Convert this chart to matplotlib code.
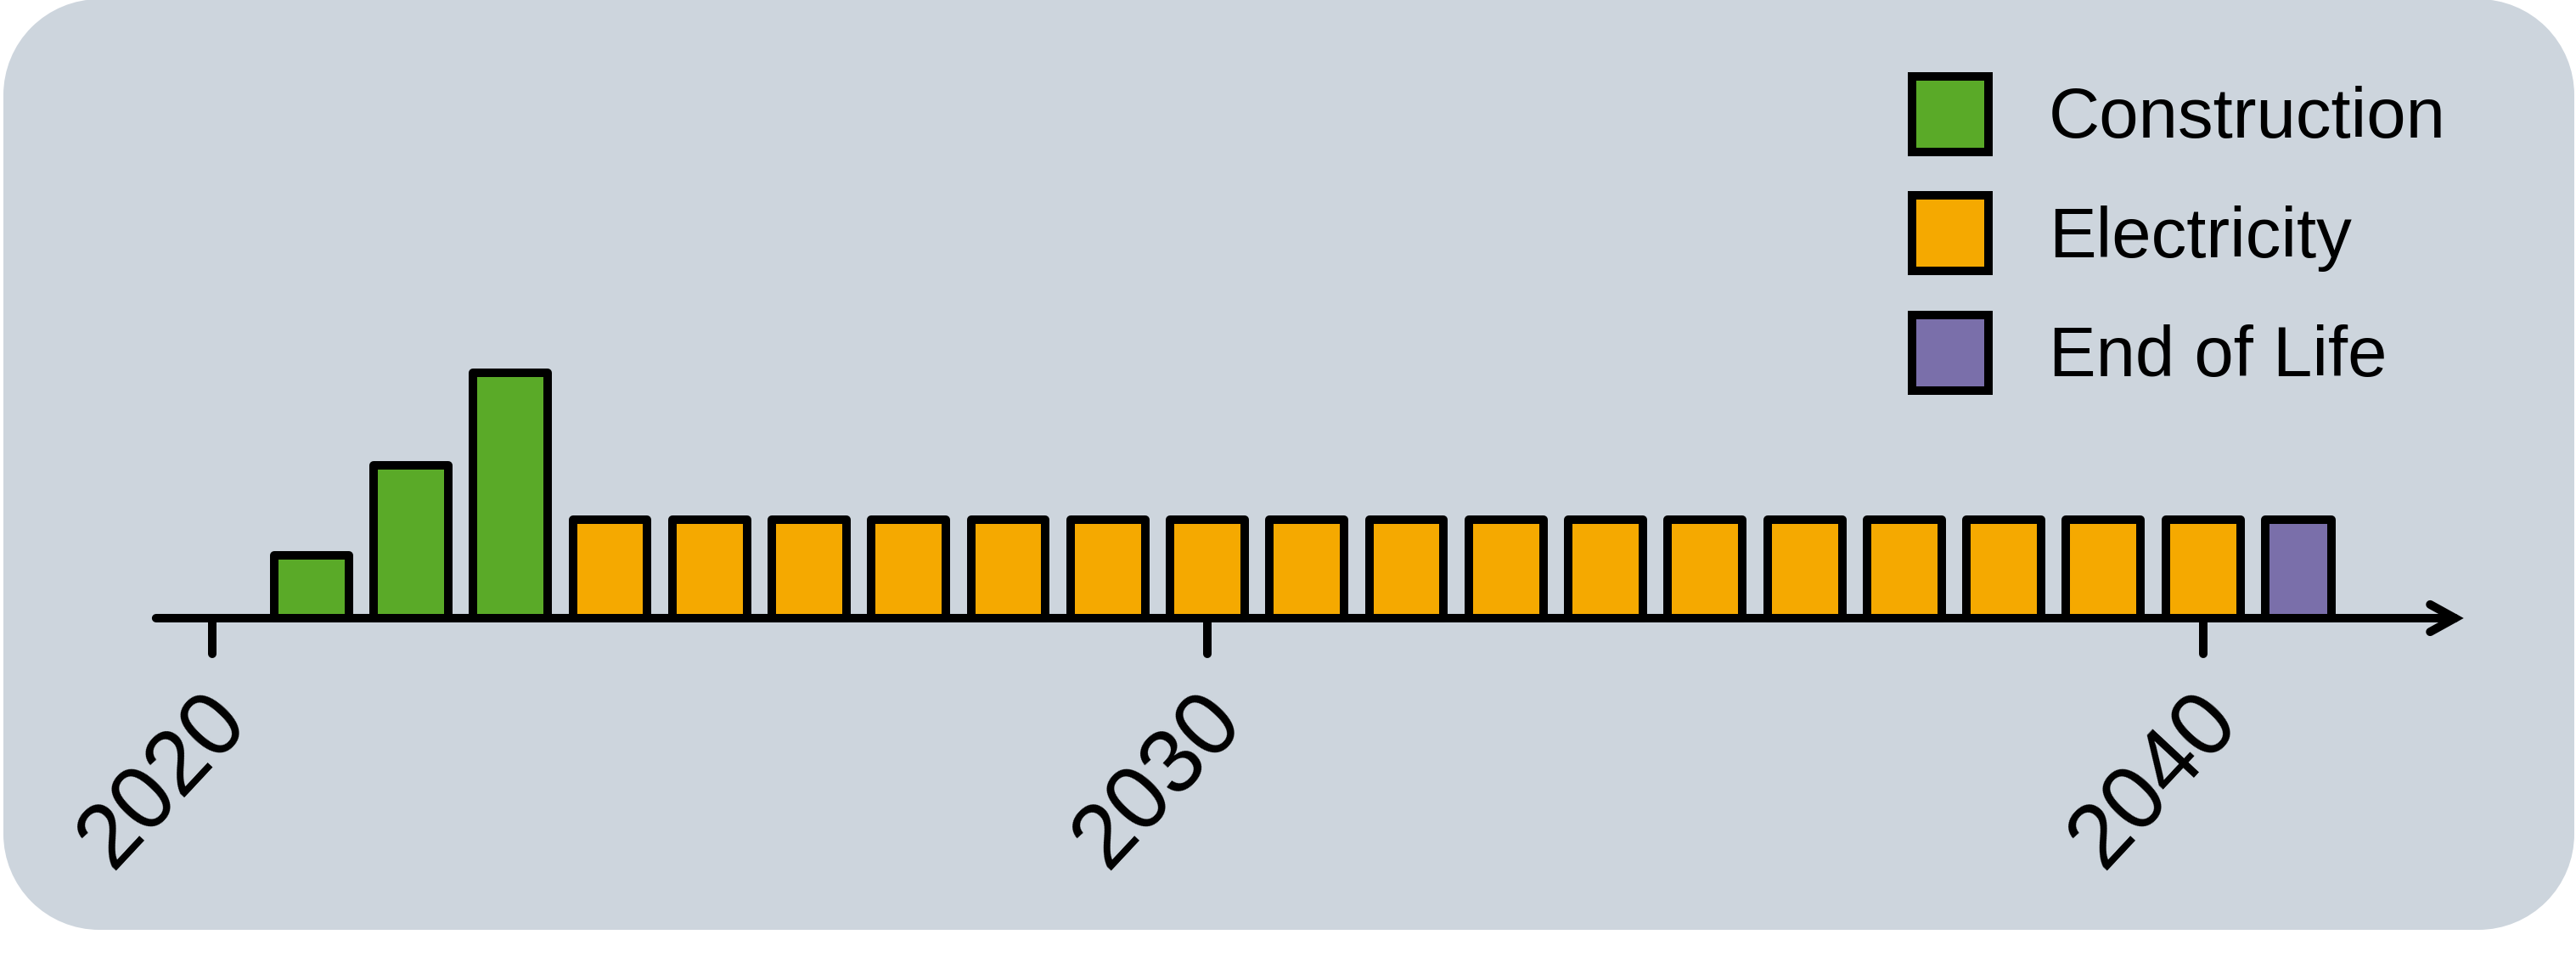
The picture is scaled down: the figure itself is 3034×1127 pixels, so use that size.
import numpy as np
import matplotlib.pyplot as plt
from matplotlib.patches import PathPatch
from matplotlib.path import Path
from matplotlib.transforms import Affine2D

# data (bar heights in units of one electricity bar)
construction_years = [2021, 2022, 2023]
construction_vals = [0.64, 1.55, 2.49]
electricity_years = [2024, 2025, 2026, 2027, 2028, 2029, 2030, 2031, 2032,
                     2033, 2034, 2035, 2036, 2037, 2038, 2039, 2040]
electricity_vals = [1.0, 1.0, 1.0, 1.0, 1.0, 1.0, 1.0, 1.0, 1.0,
                    1.0, 1.0, 1.0, 1.0, 1.0, 1.0, 1.0, 1.0]
eol_years = [2041]
eol_vals = [1.0]
tick_years = [2020, 2030, 2040]
legend_labels = ['Construction', 'Electricity', 'End of Life']

# colours
bg_col = '#cdd5dd'
green = '#5aaa28'
orange = '#f5a900'
purple = '#7a6faa'

lw = 7.2  # ~10 px at 100 dpi


def rounded_rect(x0, y0, x1, y1, r):
    # rounded rectangle with circular corners
    corners = [(180, 270, x0 + r, y0 + r), (270, 360, x1 - r, y0 + r),
               (0, 90, x1 - r, y1 - r), (90, 180, x0 + r, y1 - r)]
    parts = [Path.arc(a, b).transformed(Affine2D().scale(r).translate(cx, cy))
             for a, b, cx, cy in corners]
    verts = np.concatenate([p.vertices for p in parts])
    codes = np.concatenate([p.codes for p in parts])
    codes[1:][codes[1:] == Path.MOVETO] = Path.LINETO
    verts = np.vstack([verts, verts[:1]])
    codes = np.append(codes, Path.CLOSEPOLY)
    return Path(verts, codes)


fig = plt.figure(figsize=(30.34, 11.27), dpi=100)
fig.patch.set_facecolor('white')

# rounded background panel
panel = PathPatch(rounded_rect(0.04, 0.32, 30.32, 11.28, 1.13),
                  transform=fig.dpi_scale_trans,
                  facecolor=bg_col, edgecolor='none', zorder=-1)
fig.patches.append(panel)

ax = fig.add_axes([0, 0, 1, 1])
ax.patch.set_visible(False)
ax.set_xlim(2017.872, 2043.748)
ax.set_ylim(-3.440, 6.276)
ax.axis('off')

bar_kw = dict(align='edge', edgecolor='black', linewidth=lw,
              joinstyle='round', zorder=3)
b1 = ax.bar(np.array(construction_years) - 0.375, construction_vals,
            width=0.75, color=green, **bar_kw)
b2 = ax.bar(np.array(electricity_years) - 0.375, electricity_vals,
            width=0.75, color=orange, **bar_kw)
b3 = ax.bar(np.array(eol_years) - 0.375, eol_vals,
            width=0.665, color=purple, **bar_kw)

# time axis with arrow head
ax.annotate('', xy=(2042.62, 0), xytext=(2019.44, 0),
            arrowprops=dict(arrowstyle='->,head_length=1.05,head_width=0.58',
                            mutation_scale=20, lw=lw, color='black',
                            shrinkA=0, shrinkB=0, capstyle='round',
                            joinstyle='miter'),
            zorder=2)

# tick marks and rotated year labels
ticks = ax.vlines(tick_years, -0.362, 0, color='black', linewidth=lw, zorder=2)
ticks.set_capstyle('round')
for yr in tick_years:
    ax.text(yr - 0.49, -1.65, str(yr), rotation=47, ha='center',
            va='center', fontsize=77, family='Liberation Sans')

leg = ax.legend([b1, b2, b3], legend_labels, loc='upper left',
                bbox_to_anchor=(2252 / 3034, 1 - 90 / 1127),
                bbox_transform=fig.transFigure, frameon=False,
                prop={'family': 'Liberation Sans', 'size': 60},
                handlelength=1.08, handleheight=1.266, handletextpad=0.85,
                labelspacing=0.61, borderpad=0, borderaxespad=0)

fig.savefig('out.png', dpi=100, facecolor='white')
